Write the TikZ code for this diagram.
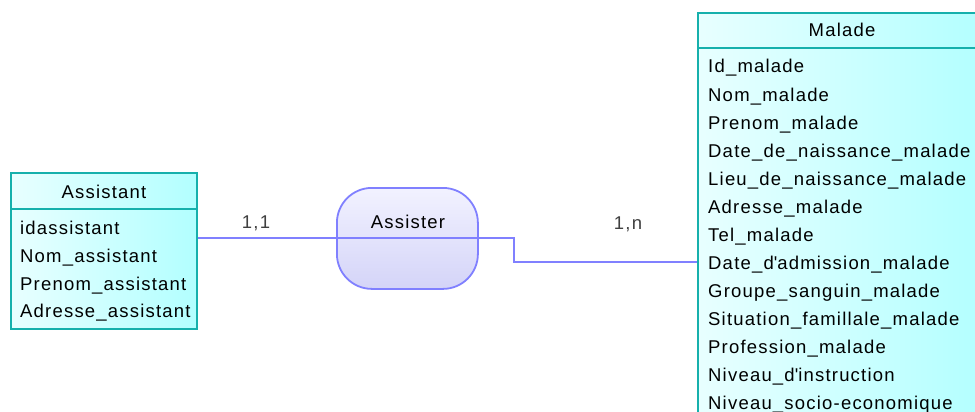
\documentclass[tikz,border=0pt]{standalone}
\usepackage{fontspec}
\setmainfont{Liberation Sans}
\newfontfamily\fsfam{Liberation Sans}[LetterSpace=6.5]
\newcommand{\fs}{\fsfam\fontsize{18.5}{21}\selectfont}
\definecolor{entc}{RGB}{22,176,172}
\definecolor{entl}{RGB}{232,255,255}
\definecolor{entr}{RGB}{178,255,255}
\definecolor{assoc}{RGB}{128,128,255}
\definecolor{assl}{RGB}{242,242,255}
\definecolor{assd}{RGB}{212,212,248}
\definecolor{cardc}{RGB}{64,64,64}
\begin{document}
\begin{tikzpicture}[x=1pt,y=-1pt,
  ent/.style={draw=entc, line width=1.8pt, left color=entl, right color=entr, rectangle, inner sep=0pt, anchor=north west},
  entline/.style={draw=entc, line width=1.8pt},
  asso/.style={draw=assoc, line width=1.8pt, top color=assl, bottom color=assd, rounded corners=35pt, rectangle, inner sep=0pt, anchor=north west},
  attr/.style={anchor=base west, inner sep=0pt, font=\fs},
  ttl/.style={anchor=base, inner sep=0pt, font=\fs},
  card/.style={anchor=base, inner sep=0pt, font=\fs, text=cardc},
  link/.style={draw=assoc, line width=1.9pt}]
\clip (0,0) rectangle (975,412);
\fill[white] (0,0) rectangle (975,412);

% Assistant entity
\node[ent, minimum width=186pt, minimum height=156pt] (assistant) at (10,172) {};
\draw[entline] ([yshift=-37pt]assistant.north west) -- ([yshift=-37pt]assistant.north east);
\node[ttl] (tassistant) at (104,198) {Assistant};
\node[attr] (as1) at (20,234) {idassistant};
\node[attr] (as2) at (20,262) {Nom\_assistant};
\node[attr] (as3) at (20,290) {Prenom\_assistant};
\node[attr] (as4) at (20,317) {Adresse\_assistant};

% Malade entity
\node[ent, minimum width=290pt, minimum height=430pt] (malade) at (697,12) {};
\draw[entline] ([yshift=-36pt]malade.north west) -- ([yshift=-36pt]malade.north east);
\node[ttl] (tmalade) at (842,37) {Malade};
\node[attr] (m1) at (708,73) {Id\_malade};
\node[attr] (m2) at (708,101) {Nom\_malade};
\node[attr] (m3) at (708,129) {Prenom\_malade};
\node[attr] (m4) at (708,157) {Date\_de\_naissance\_malade};
\node[attr] (m5) at (708,185) {Lieu\_de\_naissance\_malade};
\node[attr] (m6) at (708,213) {Adresse\_malade};
\node[attr] (m7) at (708,241) {Tel\_malade};
\node[attr] (m8) at (708,269) {Date\_d\textquotesingle admission\_malade};
\node[attr] (m9) at (708,297) {Groupe\_sanguin\_malade};
\node[attr] (m10) at (708,325) {Situation\_famillale\_malade};
\node[attr] (m11) at (708,353) {Profession\_malade};
\node[attr] (m12) at (708,381) {Niveau\_d\textquotesingle instruction};
\node[attr] (m13) at (708,409) {Niveau\_socio-economique};

% Association
\node[asso, minimum width=141pt, minimum height=101pt] (assister) at (336,187) {};
\draw[link] (assister.west) -- (assister.east);
\node[ttl] (tassister) at (408,228) {Assister};

% Links
\draw[link] (assistant.east |- assister.west) -- (assister.west);
\coordinate (elbow) at (514,262);
\draw[link] (assister.east) -| (elbow) -- (elbow -| malade.west);

% Cardinalities
\node[card] (c1) at (256,228) {1,1};
\node[card] (c2) at (628,229) {1,n};
\end{tikzpicture}
\end{document}
